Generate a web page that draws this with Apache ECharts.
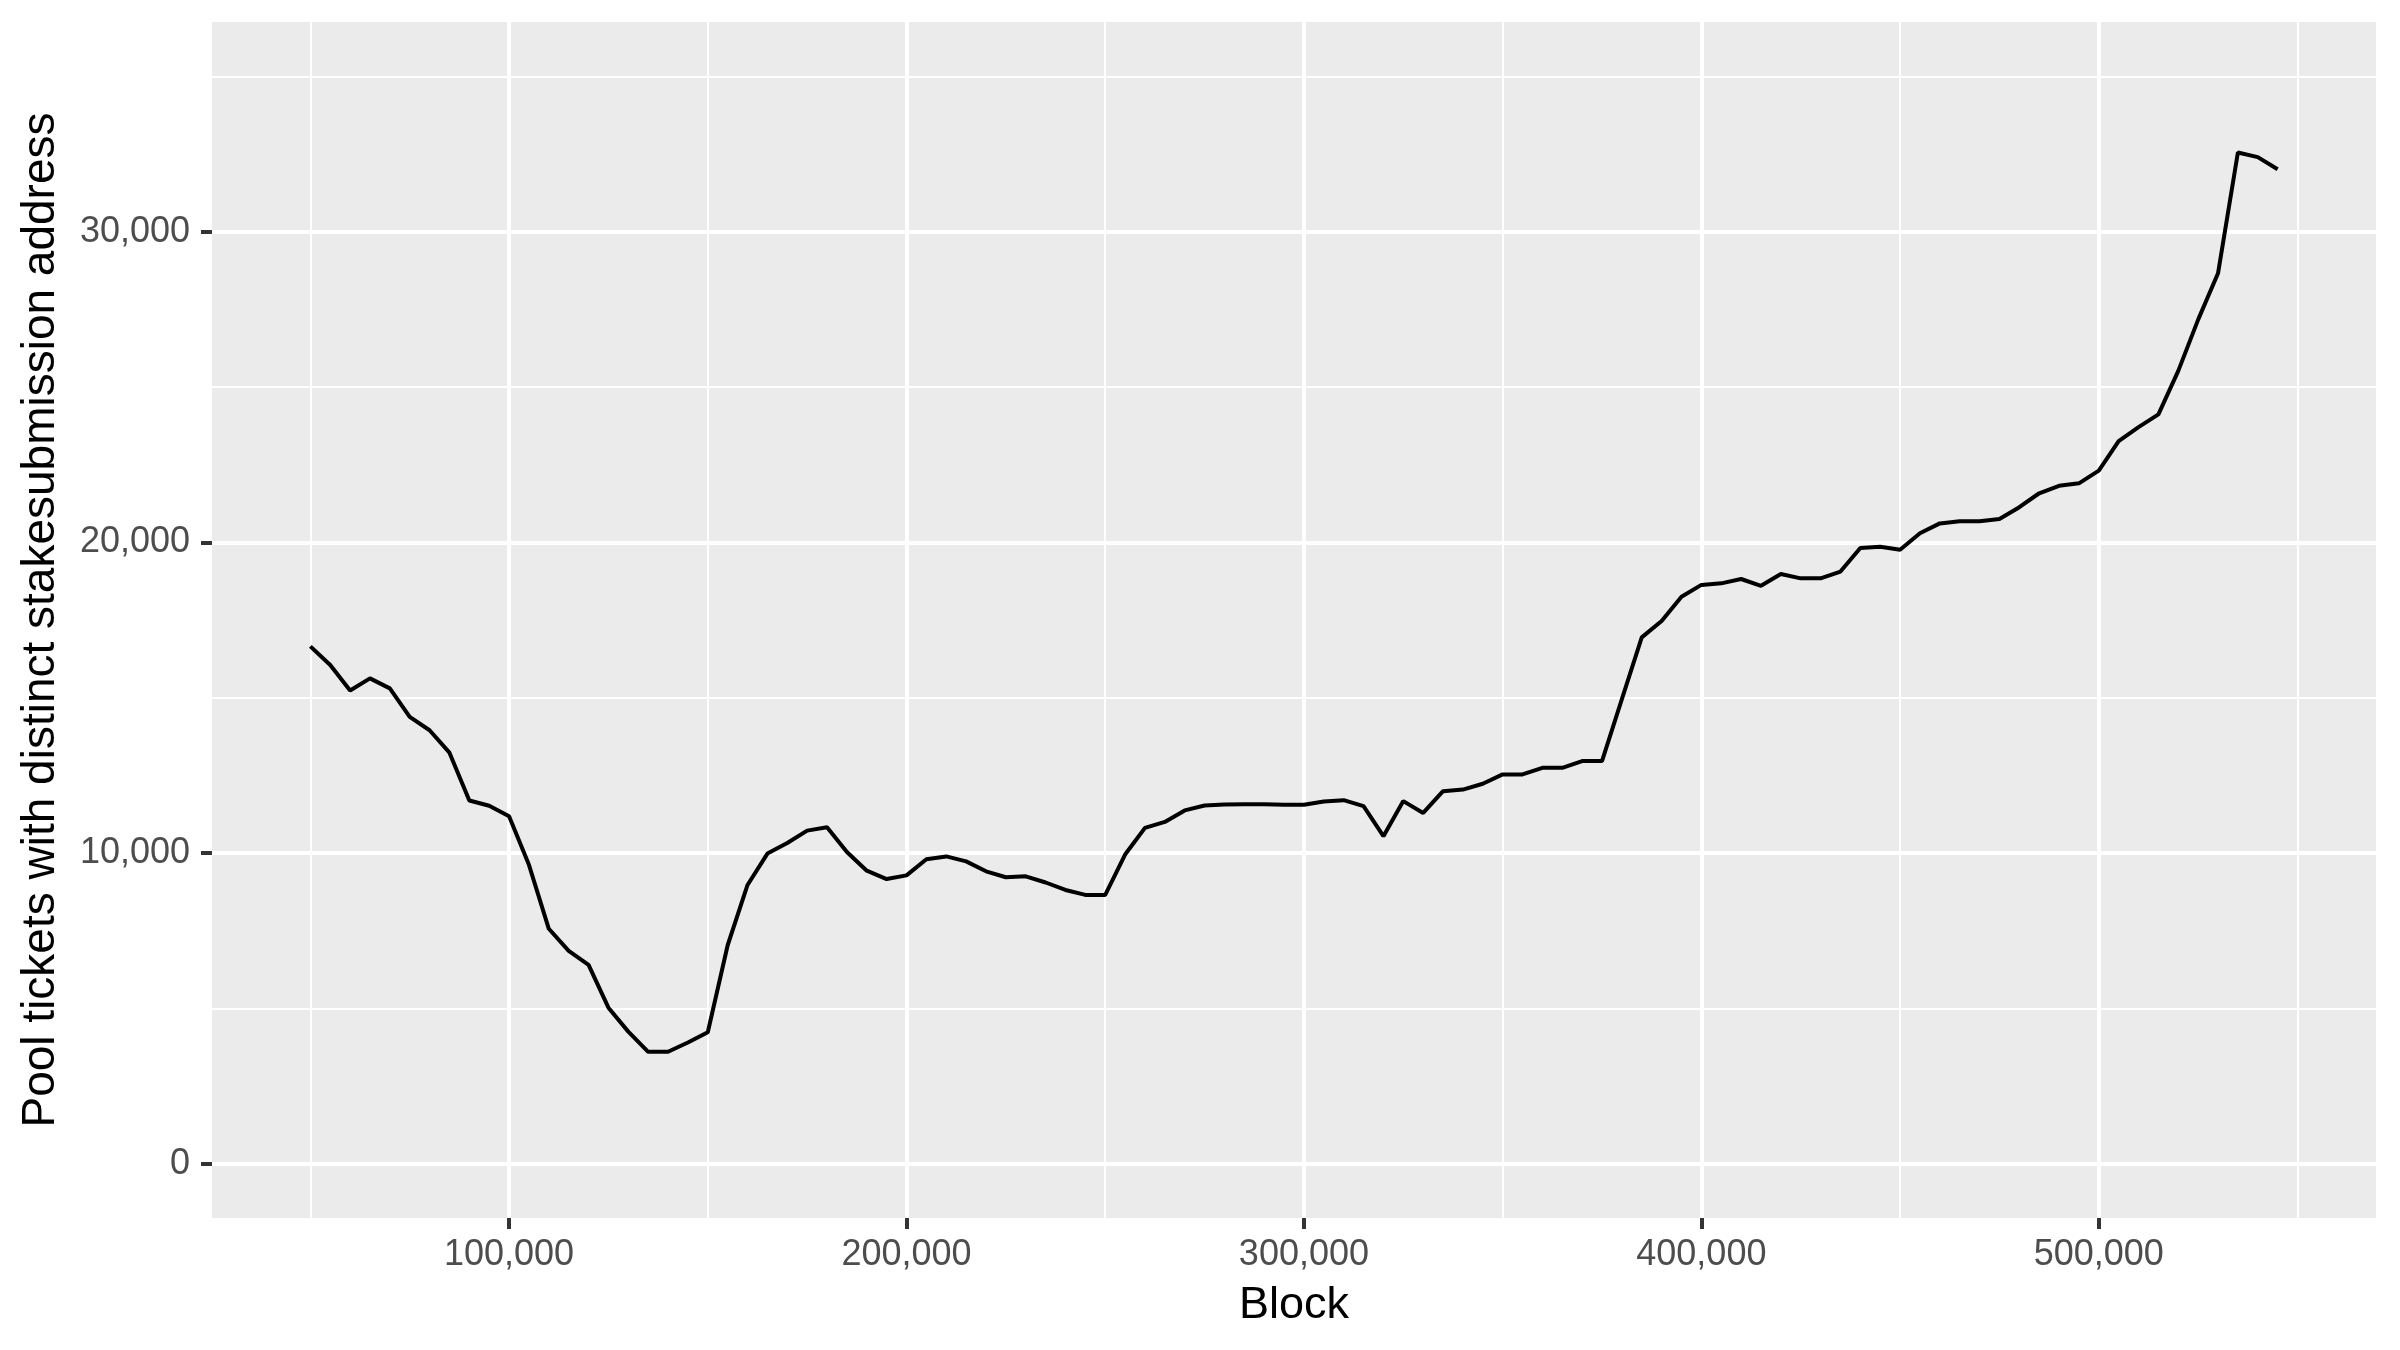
<!DOCTYPE html>
<html>
<head>
<meta charset="utf-8">
<script src="https://cdn.jsdelivr.net/npm/echarts@6/dist/echarts.min.js"></script>
<style>
html,body{margin:0;padding:0;background:#fff;}
#chart{width:2400px;height:1350px;}
</style>
</head>
<body>
<div id="chart"></div>
<script>
const blocks = [50000,55000,60000,65000,70000,75000,80000,85000,90000,95000,
  100000,105000,110000,115000,120000,125000,130000,135000,140000,145000,
  150000,155000,160000,165000,170000,175000,180000,185000,190000,195000,
  200000,205000,210000,215000,220000,225000,230000,235000,240000,245000,
  250000,255000,260000,265000,270000,275000,280000,285000,290000,295000,
  300000,305000,310000,315000,320000,325000,330000,335000,340000,345000,
  350000,355000,360000,365000,370000,375000,380000,385000,390000,395000,
  400000,405000,410000,415000,420000,425000,430000,435000,440000,445000,
  450000,455000,460000,465000,470000,475000,480000,485000,490000,495000,
  500000,505000,510000,515000,520000,525000,530000,535000,540000,545000];
const tickets = [16650,16050,15230,15620,15300,14380,13950,13230,11690,11520,
  11180,9620,7560,6850,6400,5020,4250,3600,3600,3900,
  4230,7030,8970,9980,10320,10720,10830,10030,9430,9160,
  9280,9800,9890,9730,9410,9220,9250,9050,8810,8650,
  8650,9950,10810,11000,11370,11530,11560,11570,11570,11550,
  11550,11660,11700,11510,10540,11670,11290,11990,12040,12230,
  12530,12530,12740,12740,12960,12960,14950,16940,17470,18250,
  18630,18680,18820,18600,18980,18840,18840,19060,19820,19860,
  19760,20290,20610,20680,20680,20750,21130,21580,21820,21900,
  22310,23260,23710,24120,25520,27170,28660,32550,32400,32010];
const xMajor = [100000,200000,300000,400000,500000];
const xMinor = [50000,150000,250000,350000,450000,550000];
const yMajor = [0,10000,20000,30000];
const yMinor = [5000,15000,25000,35000];
const xTitle = 'Block';
const yTitle = 'Pool tickets with distinct stakesubmission address';

const FONT = "'Liberation Sans', Arial, sans-serif";
const fmt = v => Number(v).toLocaleString('en-US');
const X_MIN = 25250, X_MAX = 569750, Y_MIN = -1750, Y_MAX = 36750;

const chart = echarts.init(document.getElementById('chart'), null, {renderer:'canvas'});
chart.setOption({
  animation: false,
  backgroundColor: '#ffffff',
  grid: {left:212, right:24, top:22, bottom:132, show:true, backgroundColor:'#EBEBEB', borderWidth:0, containLabel:false},
  xAxis: [
    {type:'value', min:X_MIN, max:X_MAX, gridIndex:0, position:'bottom',
     axisLine:{show:false, onZero:false},
     axisTick:{show:false, customValues:xMinor},
     axisLabel:{show:false, customValues:xMinor},
     splitLine:{show:true, lineStyle:{color:'#ffffff', width:2}}},
    {type:'value', min:X_MIN, max:X_MAX, gridIndex:0, position:'bottom',
     name:xTitle, nameLocation:'middle', nameGap:65,
     nameTextStyle:{fontFamily:FONT, fontSize:45, color:'#000000'},
     axisLine:{show:false, onZero:false},
     axisTick:{show:true, length:11, customValues:xMajor, lineStyle:{color:'#333333', width:4}},
     axisLabel:{show:true, customValues:xMajor, formatter:fmt, fontFamily:FONT, fontSize:36, color:'#4D4D4D', margin:19},
     splitLine:{show:true, lineStyle:{color:'#ffffff', width:4}}}
  ],
  yAxis: [
    {type:'value', min:Y_MIN, max:Y_MAX, gridIndex:0, position:'left',
     axisLine:{show:false, onZero:false},
     axisTick:{show:false, customValues:yMinor},
     axisLabel:{show:false, customValues:yMinor},
     splitLine:{show:true, lineStyle:{color:'#ffffff', width:2}}},
    {type:'value', min:Y_MIN, max:Y_MAX, gridIndex:0, position:'left',
     name:yTitle, nameLocation:'middle', nameGap:148,
     nameTextStyle:{fontFamily:FONT, fontSize:46, color:'#000000'},
     axisLine:{show:false, onZero:false},
     axisTick:{show:true, length:11, customValues:yMajor, lineStyle:{color:'#333333', width:4}},
     axisLabel:{show:true, customValues:yMajor, formatter:fmt, fontFamily:FONT, fontSize:36, color:'#4D4D4D', margin:22},
     splitLine:{show:true, lineStyle:{color:'#ffffff', width:4}}}
  ],
  series: [{
    type:'line', xAxisIndex:1, yAxisIndex:1,
    data: blocks.map((b,i)=>[b, tickets[i]]),
    showSymbol:false, symbol:'none',
    lineStyle:{color:'#000000', width:4},
    clip:false
  }]
});
</script>
</body>
</html>
